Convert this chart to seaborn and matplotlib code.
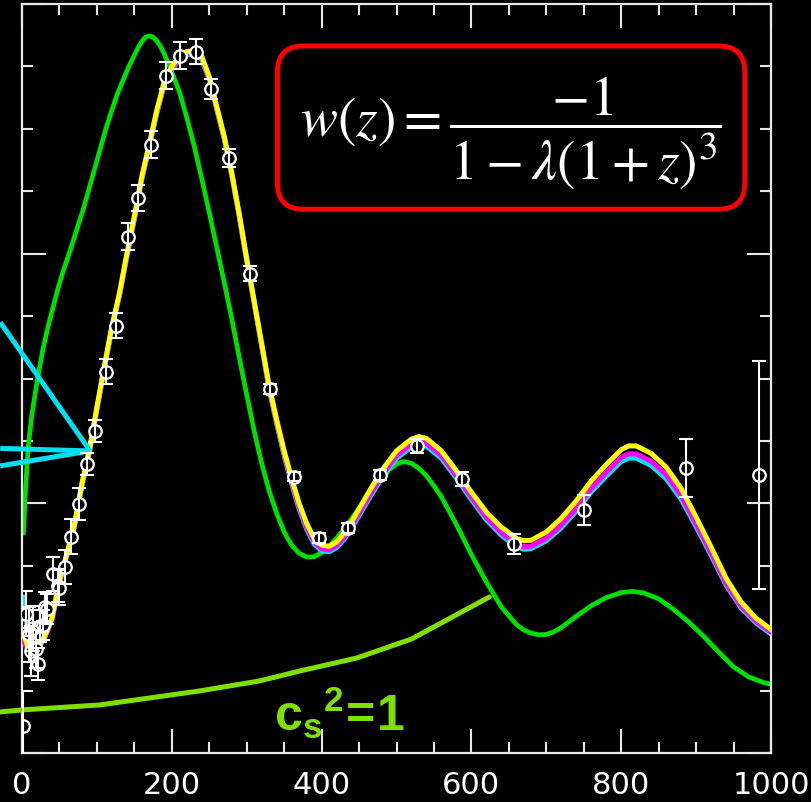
import numpy as np
import pandas as pd
import matplotlib
matplotlib.use("Agg")
import matplotlib.pyplot as plt
import seaborn as sns
from matplotlib.patches import FancyBboxPatch
from matplotlib import font_manager as fm
from matplotlib.ticker import MultipleLocator

# multipole grid for the model curves
ell = [2, 10, 20, 30, 40, 50, 60, 70, 80, 90, 100, 110, 120, 130, 140, 150, 160, 170,
       180, 190, 200, 210, 220, 230, 240, 250, 260, 270, 280, 290, 300, 310, 320, 330,
       340, 350, 360, 370, 380, 390, 400, 410, 420, 430, 440, 460, 480, 500, 520, 530,
       540, 560, 580, 600, 620, 640, 660, 670, 680, 700, 720, 740, 760, 780, 800, 810,
       820, 840, 860, 880, 900, 920, 940, 960, 980, 1000]

yellow = [950, 820, 830, 930, 1080, 1380, 1600, 1830, 2160, 2430, 2770, 3100, 3420, 3680,
          4000, 4300, 4620, 4880, 5150, 5380, 5500, 5580, 5620, 5625, 5580, 5420, 5180,
          4940, 4650, 4320, 3960, 3620, 3280, 2940, 2670, 2420, 2200, 2000, 1840, 1720,
          1665, 1655, 1690, 1760, 1850, 2060, 2260, 2420, 2515, 2535, 2520, 2420, 2260,
          2090, 1930, 1810, 1720, 1700, 1705, 1770, 1880, 2020, 2180, 2310, 2430, 2460,
          2460, 2400, 2290, 2120, 1890, 1650, 1400, 1210, 1080, 990]

magenta = [900, 800, 820, 920, 1070, 1370, 1590, 1820, 2150, 2420, 2760, 3090, 3410, 3670,
           3985, 4285, 4605, 4865, 5135, 5365, 5485, 5565, 5605, 5610, 5565, 5405, 5165,
           4928, 4638, 4308, 3950, 3610, 3268, 2925, 2652, 2398, 2175, 1972, 1812, 1692,
           1637, 1627, 1660, 1728, 1816, 2022, 2222, 2382, 2477, 2497, 2482, 2382, 2222,
           2050, 1888, 1765, 1672, 1652, 1657, 1720, 1826, 1962, 2120, 2248, 2368, 2396,
           2396, 2338, 2230, 2062, 1838, 1604, 1362, 1178, 1055, 968]

cyan = [1250, 880, 850, 930, 1070, 1365, 1585, 1812, 2140, 2410, 2750, 3080, 3400, 3660,
        3975, 4275, 4595, 4855, 5125, 5355, 5475, 5555, 5595, 5600, 5555, 5395, 5155,
        4918, 4628, 4298, 3942, 3602, 3258, 2912, 2638, 2382, 2158, 1955, 1795, 1675,
        1620, 1612, 1645, 1712, 1800, 2004, 2202, 2360, 2452, 2472, 2458, 2360, 2202,
        2030, 1868, 1745, 1652, 1632, 1638, 1700, 1804, 1938, 2092, 2218, 2336, 2362,
        2362, 2304, 2198, 2034, 1814, 1584, 1346, 1164, 1042, 954]

# green model (peak shifted to lower multipoles)
ell_green = [2, 4, 8, 13, 20, 28, 35, 41, 48, 55, 64, 73, 82, 90, 97, 104, 112, 120, 128,
             135, 142, 150, 155, 160, 165, 170, 175, 180, 185, 190, 200, 210, 220, 230, 240,
             250, 260, 270, 280, 290, 300, 310, 320, 330, 340, 350, 360, 370, 380, 390, 400,
             410, 420, 430, 440, 450, 460, 470, 480, 490, 500, 510, 520, 530, 540, 550, 560,
             580, 600, 620, 640, 660, 670, 680, 690, 700, 710, 720, 740, 760, 780, 800, 815,
             830, 850, 870, 890, 910, 930, 950, 970, 990, 1000]
green = [1760, 2035, 2436, 2700, 2973, 3237, 3420, 3560, 3720, 3860, 4020, 4190, 4360, 4530,
         4680, 4830, 5000, 5150, 5290, 5390, 5490, 5590, 5650, 5700, 5735, 5745, 5735, 5705,
         5660, 5600, 5455, 5300, 5090, 4860, 4600, 4330, 4050, 3770, 3480, 3170, 2870, 2580,
         2320, 2100, 1920, 1770, 1665, 1600, 1570, 1572, 1605, 1655, 1720, 1795, 1875, 1960,
         2040, 2120, 2200, 2270, 2315, 2335, 2320, 2280, 2220, 2140, 2050, 1830, 1590, 1370,
         1170, 1030, 985, 960, 947, 950, 970, 1005, 1095, 1180, 1245, 1285, 1295, 1282, 1235,
         1150, 1050, 935, 810, 690, 610, 565, 550]

# c_s^2 = 1 curve
ell_cs = [-29, 0, 104, 237, 317, 371, 447, 520, 624]
cs_curve = [329, 345, 385, 497, 577, 657, 761, 913, 1250]

# measured band powers
obs_ell = [2, 6, 9, 12, 15, 19, 22, 24, 28, 31, 34, 41, 48, 50, 57, 65, 76, 87, 98, 112,
           125, 141, 155, 172, 192, 211, 232, 253, 277, 304, 331, 363, 397, 435, 478, 528,
           587, 657, 751, 887, 984]
obs_power = [216, 1114, 950, 820, 1000, 833, 713, 1018, 1026, 1170, 1154, 1434, 1340, 1322,
             1490, 1731, 1995, 2316, 2580, 3053, 3422, 4135, 4447, 4872, 5425, 5585, 5617,
             5321, 4768, 3838, 2917, 2212, 1723, 1803, 2228, 2460, 2196, 1675, 1947, 2284,
             2228]
obs_err = [280, 180, 220, 200, 180, 150, 130, 130, 120, 120, 120, 140, 130, 140, 140, 140,
           130, 87, 90, 100, 100, 107, 107, 107, 107, 107, 100, 80, 72, 60, 40, 35, 40, 40,
           40, 56, 56, 80, 123, 234, 913]

# pointer lines coming in from the left edge
pointer_tail_ell = -29
pointer_tail_power = [3450, 2440, 2300]
pointer_head = (91, 2420)

sns.set_theme(style="dark", rc={"axes.facecolor": "black", "figure.facecolor": "black"})
plt.rcParams["font.family"] = ["DejaVu Sans"]
narrow = "Liberation Sans Narrow"
try:
    fm.findfont(fm.FontProperties(family=narrow), fallback_to_default=False)
except ValueError:
    narrow = "Liberation Sans"
plt.rcParams["mathtext.rm"] = narrow + ":bold"
plt.rcParams["mathtext.it"] = narrow + ":bold"
plt.rcParams["mathtext.bf"] = narrow + ":bold"

fig = plt.figure(figsize=(8.11, 8.03), dpi=100)
ax = fig.add_axes([22 / 811, 49 / 803, 749 / 811, 749 / 803])

models = pd.DataFrame({"ell": ell, "yellow": yellow, "magenta": magenta, "cyan": cyan})
sns.lineplot(data=models, x="ell", y="cyan", color="#00e5ff", lw=3.6, ax=ax, zorder=2)
sns.lineplot(data=models, x="ell", y="magenta", color="#ff00ff", lw=3.6, ax=ax, zorder=3)
sns.lineplot(data=models, x="ell", y="yellow", color="#ffff00", lw=3.6, ax=ax, zorder=4)
sns.lineplot(x=ell_green, y=green, color="#00e000", lw=3.4, ax=ax, zorder=1)
ax.plot(ell_cs, cs_curve, color="#7fe000", lw=3.6, clip_on=False, zorder=5)

for tail in pointer_tail_power:
    ax.plot([pointer_tail_ell, pointer_head[0]], [tail, pointer_head[1]],
            color="#00e0f0", lw=3.6, clip_on=False, zorder=6, solid_capstyle="butt")

ax.plot(obs_ell, obs_power, "o", ms=9, mfc="black", mec="white", mew=1.6, zorder=7)
ax.errorbar(obs_ell, obs_power, yerr=obs_err, fmt="none", ecolor="white", elinewidth=1.5,
            capsize=5, capthick=1.5, zorder=8)

ax.set_xlim(0, 1000)
ax.set_ylim(0, 6000)
ax.set_xlabel("")
ax.set_ylabel("")
ax.xaxis.set_major_locator(MultipleLocator(200))
ax.xaxis.set_minor_locator(MultipleLocator(50))
ax.yaxis.set_major_locator(MultipleLocator(2000))
ax.yaxis.set_minor_locator(MultipleLocator(500))
ax.tick_params(which="both", direction="in", top=True, right=True, bottom=True, left=True,
               colors="#e8e8e8", width=1.5)
ax.tick_params(which="major", length=17)
ax.tick_params(which="minor", length=8)
ax.tick_params(axis="x", labelsize=22, labelcolor="white", pad=12)
ax.tick_params(axis="y", labelleft=False)
ax.grid(False)
for sp in ax.spines.values():
    sp.set_color("#e8e8e8")
    sp.set_linewidth(1.6)
    sp.set_visible(True)

box = FancyBboxPatch((0.341, 0.726), 0.624, 0.218, boxstyle="round,pad=0,rounding_size=0.035",
                     transform=ax.transAxes, facecolor="black", edgecolor="#ff0000",
                     lw=3.6, zorder=9)
ax.add_patch(box)
ax.text(0.653, 0.829, r"$w(z) = \dfrac{-1}{1-\lambda(1+z)^3}$", transform=ax.transAxes,
        ha="center", va="center", color="white", fontsize=40, math_fontfamily="stix", zorder=10)

ax.text(424, 330, r"$\mathrm{c_s{}^2\!=\!1}$", ha="center", va="center", color="#7fe000",
        fontsize=36, math_fontfamily="custom", zorder=10)

fig.savefig("out.png", dpi=100, facecolor="black")
